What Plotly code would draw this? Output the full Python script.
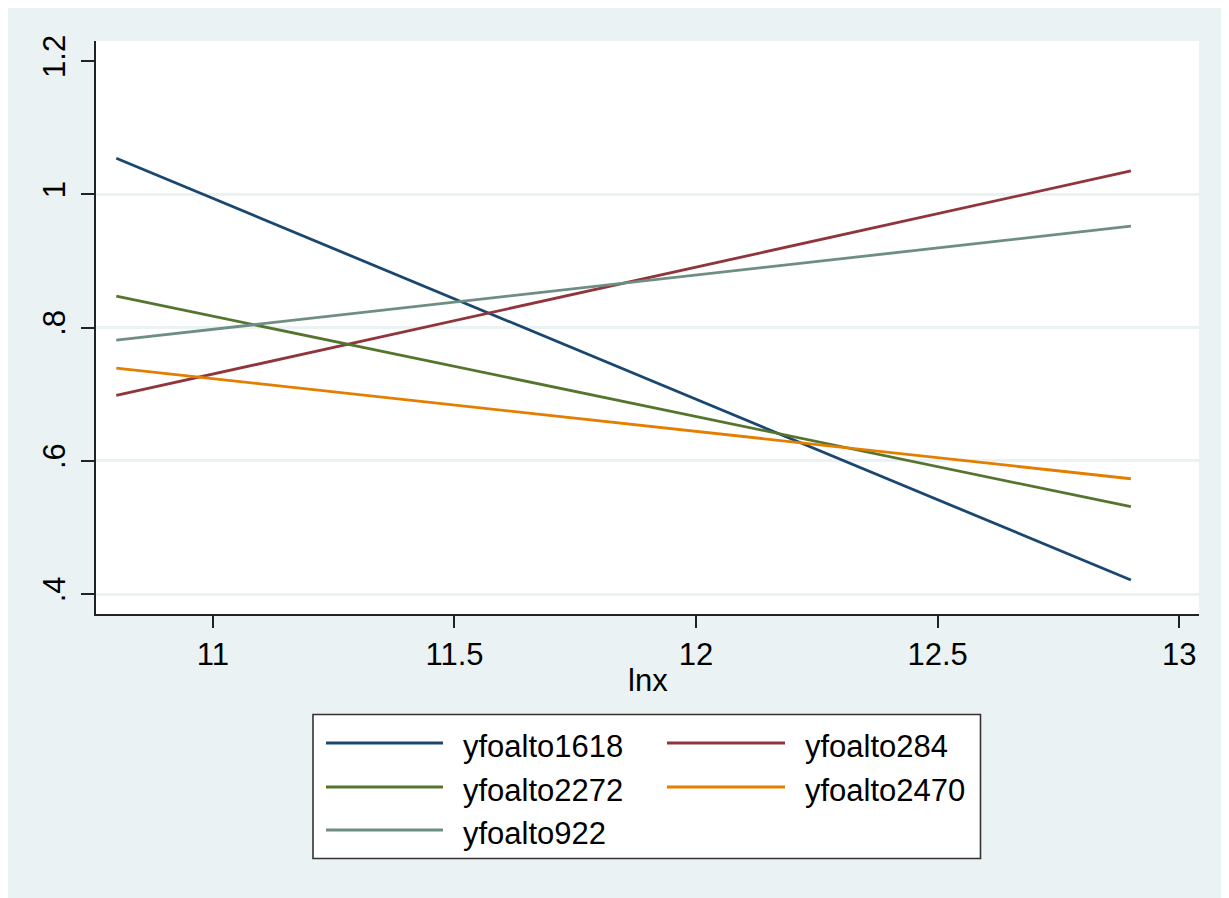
import plotly.graph_objects as go

# ---- data ----
x_vals = [10.8, 12.9]
series_names = ["yfoalto1618", "yfoalto284", "yfoalto2272", "yfoalto2470", "yfoalto922"]
yfoalto1618 = [1.054, 0.421]
yfoalto284 = [0.698, 1.035]
yfoalto2272 = [0.847, 0.531]
yfoalto2470 = [0.739, 0.573]
yfoalto922 = [0.781, 0.952]
series_values = [yfoalto1618, yfoalto284, yfoalto2272, yfoalto2470, yfoalto922]
series_colors = ["#1A476F", "#90353B", "#55752F", "#E37E00", "#6E8E84"]

x_ticks = [11, 11.5, 12, 12.5, 13]
x_ticktext = ["11", "11.5", "12", "12.5", "13"]
y_ticks = [0.4, 0.6, 0.8, 1.0, 1.2]
y_ticktext = [".4", ".6", ".8", "1", "1.2"]
grid_vals = [0.4, 0.6, 0.8, 1.0]

OFF = 8  # page body margin
W, H = 1221, 890
L, R, T, B = 88, 30, 33, 284
PW, PH = W - L - R, H - T - B
BG = "#EAF2F3"
FONT = "Liberation Sans, Arial, sans-serif"
FS = 31
LW = 2.8


def px(xp):
    return (xp - OFF - L) / PW


def py(yp):
    return (H - B - (yp - OFF)) / PH


fig = go.Figure()
for name, vals, col in zip(series_names, series_values, series_colors):
    fig.add_trace(go.Scatter(x=x_vals, y=vals, mode="lines", name=name,
                             line=dict(color=col, width=LW), showlegend=False))

# invisible trace on overlay axis for gridlines
fig.add_trace(go.Scatter(x=[x_vals[0]], y=[grid_vals[0]], yaxis="y2", mode="markers",
                         marker=dict(opacity=0), showlegend=False, hoverinfo="skip"))

shapes = [
    dict(type="rect", xref="paper", yref="paper", x0=0, x1=1, y0=0, y1=1,
         fillcolor="white", line=dict(width=0), layer="below"),
    # legend box
    dict(type="rect", xref="paper", yref="paper", x0=px(313), x1=px(980.5), y0=py(858.5), y1=py(714.5),
         fillcolor="white", line=dict(color="#333333", width=1.6), layer="above"),
]
annotations = []
cols_x = [(326, 443, 461), (667, 785, 803)]
rows_y = [743, 787, 830]
for i, (name, col) in enumerate(zip(series_names, series_colors)):
    c = cols_x[i % 2]
    r = rows_y[i // 2]
    shapes.append(dict(type="line", xref="paper", yref="paper", x0=px(c[0]), x1=px(c[1]),
                       y0=py(r), y1=py(r), line=dict(color=col, width=LW), layer="above"))
    annotations.append(dict(xref="paper", yref="paper", x=px(c[2]), y=py(r + 3), text=name,
                            showarrow=False, xanchor="left", yanchor="middle",
                            font=dict(family=FONT, size=FS, color="black")))
annotations.append(dict(xref="paper", yref="paper", x=0.5, y=py(680), text="lnx", showarrow=False,
                        xanchor="center", yanchor="middle",
                        font=dict(family=FONT, size=FS, color="black")))

fig.update_layout(
    width=W, height=H,
    margin=dict(l=L, r=R, t=T, b=B),
    paper_bgcolor=BG, plot_bgcolor="rgba(0,0,0,0)",
    font=dict(family=FONT, size=FS, color="black"),
    showlegend=False,
    shapes=shapes, annotations=annotations,
    xaxis=dict(range=[10.758, 13.041], tickvals=x_ticks, ticktext=x_ticktext,
               showgrid=False, zeroline=False, showline=True, linecolor="#222222", linewidth=1.5,
               ticks="outside", ticklen=12, tickwidth=1.5, tickcolor="#222222",
               tickfont=dict(size=FS), mirror=False),
    yaxis=dict(range=[0.370, 1.230], tickvals=y_ticks, ticktext=y_ticktext, tickangle=-90,
               showgrid=False, zeroline=False, showline=True, linecolor="#222222", linewidth=1.5,
               ticks="outside", ticklen=13, tickwidth=1.5, tickcolor="#222222",
               ticklabelstandoff=4, tickfont=dict(size=FS)),
    yaxis2=dict(range=[0.370, 1.230], overlaying="y", tickvals=grid_vals, showticklabels=False,
                showgrid=True, gridcolor=BG, gridwidth=2.5, zeroline=False, showline=False, ticks=""),
)

fig.write_html("out.html")
